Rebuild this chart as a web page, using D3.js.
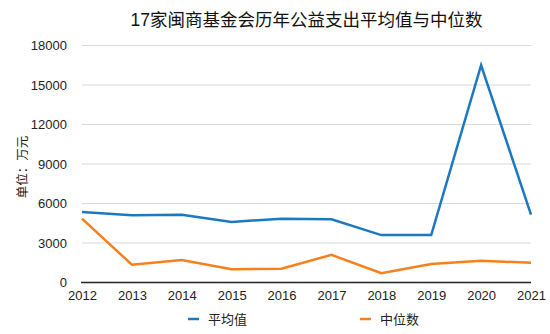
<!DOCTYPE html>
<html><head><meta charset="utf-8">
<script src="https://cdn.jsdelivr.net/npm/d3@7/dist/d3.min.js"></script>
<style>
body{margin:0;background:#fff;}
text{font-family:"Liberation Sans","Noto Sans CJK SC",sans-serif;}
</style></head>
<body><svg id="c" width="550" height="334"></svg>
<script>
const years = [2012,2013,2014,2015,2016,2017,2018,2019,2020,2021];
const meanValues = [5350,5100,5150,4600,4850,4800,3600,3600,16500,5150];
const medianValues = [4850,1350,1700,1000,1050,2100,700,1400,1650,1500];
const yTicks = [0,3000,6000,9000,12000,15000,18000];
const seriesNames = ["平均值","中位数"];
const colors = ["#1c79c0","#f7801e"];
const title = "17家闽商基金会历年公益支出平均值与中位数";
const yTitle = "单位：万元";

const svg = d3.select("#c");
const x = d3.scaleLinear().domain([2012,2021]).range([82,531]);
const y = d3.scaleLinear().domain([0,18000]).range([282.5,45.5]);

svg.append("text").attr("x",306.5).attr("y",26).attr("text-anchor","middle")
  .attr("font-size","17.5px").attr("fill","#111").text(title);

// gridlines
svg.append("g").selectAll("line").data(yTicks.filter(d=>d>0)).join("line")
  .attr("x1",82).attr("x2",531).attr("y1",d=>y(d)).attr("y2",d=>y(d))
  .attr("stroke","#d9d9d9").attr("stroke-width",1);

// y axis labels
const yAxis = d3.axisLeft(y).tickValues(yTicks).tickSize(0).tickPadding(0).tickFormat(d=>d);
const gy = svg.append("g").attr("transform","translate(67,0)").call(yAxis);
gy.select(".domain").remove();
gy.selectAll("text").attr("font-size","13px").attr("fill","#222").attr("font-family","Liberation Sans, sans-serif");

// x axis
const xAxis = d3.axisBottom(x).tickValues(years).tickSize(0).tickPadding(8).tickFormat(d=>d);
const gx = svg.append("g").attr("transform",`translate(0,${y(0)})`).call(xAxis);
gx.select(".domain").attr("stroke","#222").attr("stroke-width",1.5).attr("d","M81,0H531");
gx.selectAll("text").attr("font-size","13px").attr("fill","#222").attr("font-family","Liberation Sans, sans-serif");

// y title
svg.append("text").attr("transform","translate(27,167) rotate(-90)").attr("text-anchor","middle")
  .attr("font-size","12.5px").attr("fill","#222").text(yTitle);

// lines
const line = d3.line().x((d,i)=>x(years[i])).y(d=>y(d));
[meanValues, medianValues].forEach((vals,k)=>{
  svg.append("path").attr("d",line(vals)).attr("fill","none")
    .attr("stroke",colors[k]).attr("stroke-width",2.5).attr("stroke-linejoin","miter");
});

// legend
const legX = [188,360];
seriesNames.forEach((n,k)=>{
  svg.append("line").attr("x1",legX[k]).attr("x2",legX[k]+11).attr("y1",319).attr("y2",319)
    .attr("stroke",colors[k]).attr("stroke-width",2.5);
  svg.append("text").attr("x",legX[k]+20).attr("y",324).attr("font-size","13px").attr("fill","#222").text(n);
});
</script></body></html>
